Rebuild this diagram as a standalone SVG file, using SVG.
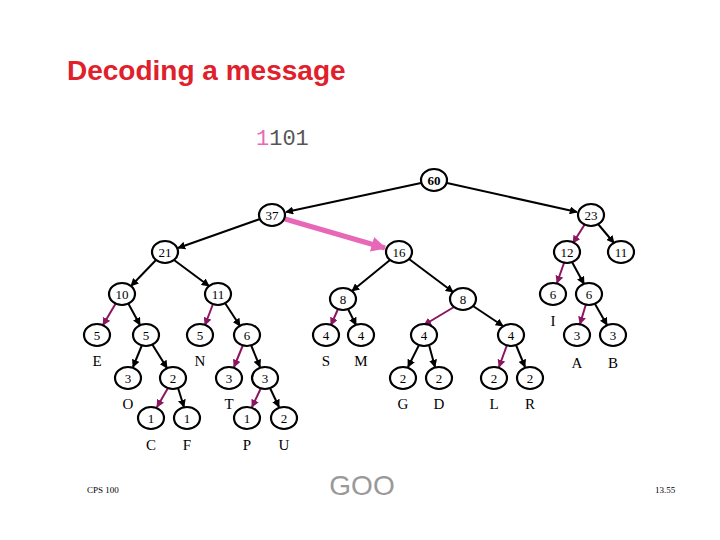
<svg xmlns="http://www.w3.org/2000/svg" width="720" height="540" viewBox="0 0 720 540">
<style>
.n ellipse{fill:#fff;stroke:#000;stroke-width:2.2}
.n text,.lb{font-family:"Liberation Serif",serif;font-size:13px;text-anchor:middle}
.b{stroke:#000;stroke-width:2}
.p{stroke:#8b1560;stroke-width:2}
</style>
<defs>
<marker id="ab" viewBox="0 0 10 10" refX="9" refY="5" markerWidth="4" markerHeight="4" orient="auto"><path d="M0,0L10,5L0,10z" fill="#000"/></marker>
<marker id="ap" viewBox="0 0 10 10" refX="9" refY="5" markerWidth="4" markerHeight="4" orient="auto"><path d="M0,0L10,5L0,10z" fill="#8b1560"/></marker>
<marker id="ak" viewBox="0 0 10 10" refX="9" refY="5" markerWidth="3" markerHeight="3" orient="auto"><path d="M0,0L10,5L0,10z" fill="#e868b8"/></marker>
</defs>
<rect width="720" height="540" fill="#fff"/>
<text x="67" y="80" font-family="Liberation Sans,sans-serif" font-weight="bold" font-size="28" fill="#e0202a">Decoding a message</text>
<text x="256" y="145" font-family="Liberation Mono,monospace" font-size="22"><tspan fill="#e868b8">1</tspan><tspan fill="#555">101</tspan></text>
<g id="connectors">
<line class="b" x1="421" y1="183" x2="286" y2="212" marker-end="url(#ab)"/>
<line class="b" x1="447" y1="183" x2="577" y2="212" marker-end="url(#ab)"/>
<line class="b" x1="260" y1="219" x2="178" y2="248" marker-end="url(#ab)"/>
<line stroke="#e868b8" stroke-width="5" x1="285" y1="219" x2="385" y2="248" marker-end="url(#ak)"/>
<line class="b" x1="156" y1="260" x2="131" y2="286" marker-end="url(#ab)"/>
<line class="b" x1="174" y1="260" x2="209" y2="286" marker-end="url(#ab)"/>
<line class="b" x1="390" y1="260" x2="352" y2="291" marker-end="url(#ab)"/>
<line class="b" x1="409" y1="259" x2="453" y2="292" marker-end="url(#ab)"/>
<line class="p" x1="585" y1="224" x2="573" y2="243" marker-end="url(#ap)"/>
<line class="b" x1="598" y1="224" x2="614" y2="243" marker-end="url(#ab)"/>
<line class="p" x1="564" y1="263" x2="557" y2="283" marker-end="url(#ap)"/>
<line class="b" x1="572" y1="262" x2="584" y2="284" marker-end="url(#ab)"/>
<line class="p" x1="116" y1="303" x2="103" y2="325" marker-end="url(#ap)"/>
<line class="b" x1="128" y1="303" x2="140" y2="325" marker-end="url(#ab)"/>
<line class="p" x1="213" y1="304" x2="205" y2="325" marker-end="url(#ap)"/>
<line class="b" x1="225" y1="303" x2="240" y2="326" marker-end="url(#ab)"/>
<line class="p" x1="338" y1="309" x2="331" y2="325" marker-end="url(#ap)"/>
<line class="b" x1="348" y1="309" x2="356" y2="325" marker-end="url(#ab)"/>
<line class="p" x1="454" y1="307" x2="424" y2="325" marker-end="url(#ap)"/>
<line class="b" x1="473" y1="306" x2="503" y2="326" marker-end="url(#ab)"/>
<line class="p" x1="586" y1="304" x2="580" y2="324" marker-end="url(#ap)"/>
<line class="b" x1="595" y1="304" x2="607" y2="325" marker-end="url(#ab)"/>
<line class="b" x1="142" y1="345" x2="133" y2="367" marker-end="url(#ab)"/>
<line class="b" x1="152" y1="344" x2="167" y2="368" marker-end="url(#ab)"/>
<line class="p" x1="243" y1="345" x2="234" y2="367" marker-end="url(#ap)"/>
<line class="b" x1="251" y1="345" x2="260" y2="367" marker-end="url(#ab)"/>
<line class="b" x1="419" y1="345" x2="408" y2="367" marker-end="url(#ab)"/>
<line class="b" x1="429" y1="345" x2="435" y2="367" marker-end="url(#ab)"/>
<line class="p" x1="507" y1="345" x2="499" y2="367" marker-end="url(#ap)"/>
<line class="b" x1="516" y1="345" x2="525" y2="367" marker-end="url(#ab)"/>
<line class="p" x1="168" y1="388" x2="157" y2="407" marker-end="url(#ap)"/>
<line class="b" x1="178" y1="388" x2="184" y2="407" marker-end="url(#ab)"/>
<line class="p" x1="261" y1="388" x2="252" y2="407" marker-end="url(#ap)"/>
<line class="b" x1="270" y1="388" x2="279" y2="407" marker-end="url(#ab)"/>
</g>
<g id="n60" class="n"><ellipse cx="434" cy="180" rx="13" ry="11"/><text x="434" y="185" font-weight="bold">60</text></g>
<g id="n37" class="n"><ellipse cx="272" cy="215" rx="13" ry="11"/><text x="272" y="220">37</text></g>
<g id="n23" class="n"><ellipse cx="591" cy="215" rx="13" ry="11"/><text x="591" y="220">23</text></g>
<g id="n21" class="n"><ellipse cx="165" cy="252" rx="13" ry="11"/><text x="165" y="257">21</text></g>
<g id="n16" class="n"><ellipse cx="399" cy="252" rx="13" ry="11"/><text x="399" y="257">16</text></g>
<g id="n12" class="n"><ellipse cx="567" cy="252" rx="13" ry="11"/><text x="567" y="257">12</text></g>
<g id="n11r" class="n"><ellipse cx="621" cy="252" rx="13" ry="11"/><text x="621" y="257">11</text></g>
<g id="n10" class="n"><ellipse cx="122" cy="294" rx="13" ry="11"/><text x="122" y="299">10</text></g>
<g id="n11" class="n"><ellipse cx="218" cy="294" rx="13" ry="11"/><text x="218" y="299">11</text></g>
<g id="n8a" class="n"><ellipse cx="343" cy="299" rx="13" ry="11"/><text x="343" y="304">8</text></g>
<g id="n8b" class="n"><ellipse cx="463" cy="299" rx="13" ry="11"/><text x="463" y="304">8</text></g>
<g id="n6I" class="n"><ellipse cx="553" cy="294" rx="13" ry="11"/><text x="553" y="299">6</text></g>
<g id="n6b" class="n"><ellipse cx="589" cy="294" rx="13" ry="11"/><text x="589" y="299">6</text></g>
<g id="n5E" class="n"><ellipse cx="97" cy="335" rx="13" ry="11"/><text x="97" y="340">5</text></g>
<g id="n5" class="n"><ellipse cx="146" cy="335" rx="13" ry="11"/><text x="146" y="340">5</text></g>
<g id="n5N" class="n"><ellipse cx="200" cy="335" rx="13" ry="11"/><text x="200" y="340">5</text></g>
<g id="n6" class="n"><ellipse cx="247" cy="335" rx="13" ry="11"/><text x="247" y="340">6</text></g>
<g id="n4S" class="n"><ellipse cx="326" cy="335" rx="13" ry="11"/><text x="326" y="340">4</text></g>
<g id="n4M" class="n"><ellipse cx="361" cy="335" rx="13" ry="11"/><text x="361" y="340">4</text></g>
<g id="n4a" class="n"><ellipse cx="424" cy="335" rx="13" ry="11"/><text x="424" y="340">4</text></g>
<g id="n4b" class="n"><ellipse cx="511" cy="335" rx="13" ry="11"/><text x="511" y="340">4</text></g>
<g id="n3A" class="n"><ellipse cx="577" cy="335" rx="13" ry="11"/><text x="577" y="340">3</text></g>
<g id="n3B" class="n"><ellipse cx="613" cy="335" rx="13" ry="11"/><text x="613" y="340">3</text></g>
<g id="n3O" class="n"><ellipse cx="128" cy="378" rx="13" ry="11"/><text x="128" y="383">3</text></g>
<g id="n2" class="n"><ellipse cx="173" cy="378" rx="13" ry="11"/><text x="173" y="383">2</text></g>
<g id="n3T" class="n"><ellipse cx="229" cy="378" rx="13" ry="11"/><text x="229" y="383">3</text></g>
<g id="n3" class="n"><ellipse cx="265" cy="378" rx="13" ry="11"/><text x="265" y="383">3</text></g>
<g id="n2G" class="n"><ellipse cx="403" cy="378" rx="13" ry="11"/><text x="403" y="383">2</text></g>
<g id="n2D" class="n"><ellipse cx="439" cy="378" rx="13" ry="11"/><text x="439" y="383">2</text></g>
<g id="n2L" class="n"><ellipse cx="494" cy="378" rx="13" ry="11"/><text x="494" y="383">2</text></g>
<g id="n2R" class="n"><ellipse cx="530" cy="378" rx="13" ry="11"/><text x="530" y="383">2</text></g>
<g id="n1C" class="n"><ellipse cx="151" cy="418" rx="13" ry="11"/><text x="151" y="423">1</text></g>
<g id="n1F" class="n"><ellipse cx="187" cy="418" rx="13" ry="11"/><text x="187" y="423">1</text></g>
<g id="n1P" class="n"><ellipse cx="247" cy="418" rx="13" ry="11"/><text x="247" y="423">1</text></g>
<g id="n2U" class="n"><ellipse cx="284" cy="418" rx="13" ry="11"/><text x="284" y="423">2</text></g>
<g id="labels" font-size="15">
<text class="lb" x="97" y="366" style="font-size:15px">E</text>
<text class="lb" x="200" y="366" style="font-size:15px">N</text>
<text class="lb" x="326" y="366" style="font-size:15px">S</text>
<text class="lb" x="361" y="366" style="font-size:15px">M</text>
<text class="lb" x="553" y="326" style="font-size:15px">I</text>
<text class="lb" x="577" y="368" style="font-size:15px">A</text>
<text class="lb" x="613" y="368" style="font-size:15px">B</text>
<text class="lb" x="128" y="409" style="font-size:15px">O</text>
<text class="lb" x="229" y="409" style="font-size:15px">T</text>
<text class="lb" x="403" y="409" style="font-size:15px">G</text>
<text class="lb" x="439" y="409" style="font-size:15px">D</text>
<text class="lb" x="494" y="409" style="font-size:15px">L</text>
<text class="lb" x="530" y="409" style="font-size:15px">R</text>
<text class="lb" x="151" y="450" style="font-size:15px">C</text>
<text class="lb" x="187" y="450" style="font-size:15px">F</text>
<text class="lb" x="247" y="450" style="font-size:15px">P</text>
<text class="lb" x="284" y="450" style="font-size:15px">U</text>
</g>
<text x="362" y="495" text-anchor="middle" font-family="Liberation Sans,sans-serif" font-size="28" fill="#999">GOO</text>
<text x="87" y="493" font-family="Liberation Serif,serif" font-size="9">CPS 100</text>
<text x="655" y="493" font-family="Liberation Serif,serif" font-size="9">13.55</text>
</svg>
